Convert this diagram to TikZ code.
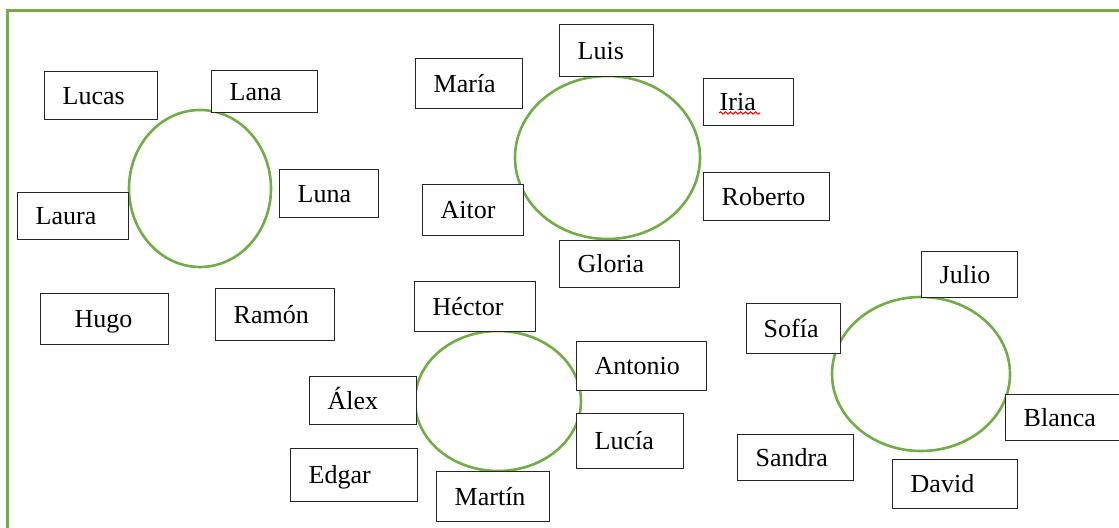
\documentclass[tikz,border=0pt]{standalone}
\usepackage{fontspec}
\setmainfont{Liberation Serif}
\usetikzlibrary{decorations.pathmorphing}
\definecolor{leafgreen}{HTML}{70AD47}

% [pad]{name}{left}{top}{right}{bottom}{text}, in pixels of the page
\newcommand{\namebox}[7][18]{%
  \pgfmathsetmacro{\boxw}{(#5-#3)*0.5-#1}%
  \pgfmathsetmacro{\boxh}{(#6-#4)*0.5}%
  \pgfmathsetmacro{\boxpad}{#1*0.5}%
  \node[namebox, inner xsep=\boxpad pt, text width=\boxw pt,
        minimum height=\boxh pt] (#2) at (#3,#4) {#7};}

\begin{document}
\begin{tikzpicture}[
  x=0.5pt, y=-0.5pt,
  namebox/.style={draw=black!85, line width=0.7pt, fill=white,
    anchor=north west, align=left, inner ysep=0pt,
    text height=8.6pt, text depth=0pt, font=\fontsize{13}{15}\selectfont},
  ring/.style={draw=leafgreen, line width=1.3pt},
  frame/.style={draw=leafgreen, line width=1.5pt}
]
  \useasboundingbox (0,0) rectangle (1119,528);
  \clip (0,0) rectangle (1119,528);
  \draw[frame] (7,540) -- (7,11) -- (1130,11);

  % the four circles
  \draw[ring] (200,188.5) ellipse [x radius=35.5pt, y radius=39.25pt];
  \draw[ring] (607.5,157.5) ellipse [x radius=46.25pt, y radius=40.75pt];
  \draw[ring] (498,401) ellipse [x radius=41.5pt, y radius=35pt];
  \draw[ring] (921,374) ellipse [x radius=44.5pt, y radius=38.5pt];

  % group 1
  \namebox{lucas}{44}{71}{157}{119}{Lucas}
  \namebox{lana}{211}{70}{317}{112}{Lana}
  \namebox{luna}{279}{169}{378}{217}{Luna}
  \namebox{laura}{17}{192}{128}{239}{Laura}
  \namebox[34]{hugo}{40}{293}{168}{344}{Hugo}
  \namebox{ramon}{215}{288}{334}{340}{Ramón}

  % group 2
  \namebox{luis}{559}{24}{653}{76}{Luis}
  \namebox{maria}{415}{58}{522}{108}{María}
  \namebox[16]{iria}{703}{78}{793}{125}{Iria}
  \namebox{roberto}{703}{172}{829}{220}{Roberto}
  \namebox{aitor}{422}{184}{523}{235}{Aitor}
  \namebox{gloria}{559}{240}{679}{287}{Gloria}
  \draw[red, line width=0.5pt, decorate,
        decoration={snake, amplitude=0.6pt, segment length=2.5pt}]
    (719,113) -- (760,113);

  % group 3
  \namebox{hector}{414}{281}{535}{331}{Héctor}
  \namebox{antonio}{576}{341}{706}{390}{Antonio}
  \namebox{alex}{309}{376}{416}{424}{Álex}
  \namebox{lucia}{576}{413}{683}{468}{Lucía}
  \namebox{edgar}{290}{448}{417}{501}{Edgar}
  \namebox{martin}{436}{471}{549}{521}{Martín}

  % group 4
  \namebox{julio}{921}{251}{1017}{297}{Julio}
  \namebox[17]{sofia}{746}{303}{840}{353}{Sofía}
  \namebox{blanca}{1005}{394}{1135}{440}{Blanca}
  \namebox{sandra}{737}{434}{853}{480}{Sandra}
  \namebox{david}{892}{459}{1017}{508}{David}
\end{tikzpicture}
\end{document}
